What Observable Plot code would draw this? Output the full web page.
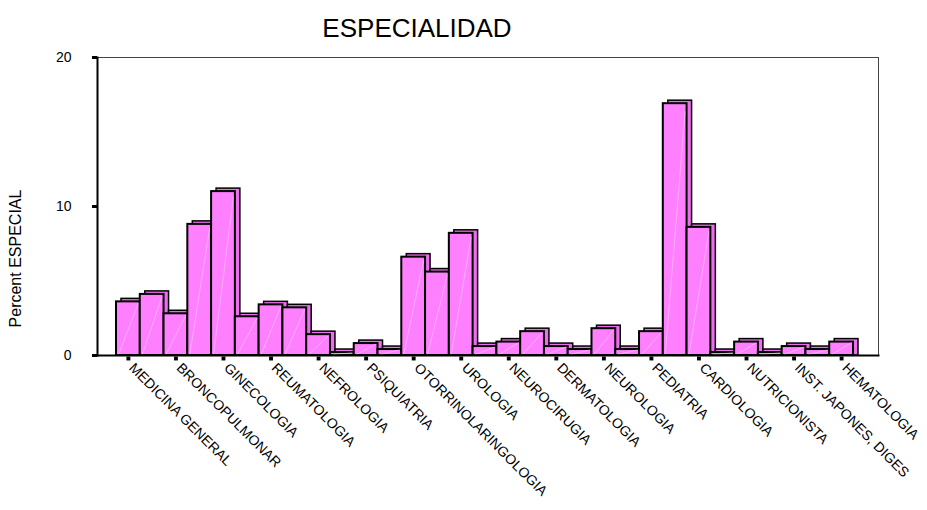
<!DOCTYPE html>
<html>
<head>
<meta charset="utf-8">
<script src="https://cdn.jsdelivr.net/npm/d3@7"></script>
<script src="https://cdn.jsdelivr.net/npm/@observablehq/plot@0.6"></script>
<style>
  html, body { margin: 0; padding: 0; background: #fff; }
</style>
</head>
<body>
<div id="chart"></div>
<script>
// Percent of records per specialty, in category order (31 categories).
const percents = [
  3.6, 4.1, 2.8, 8.8, 11.0, 2.6, 3.4, 3.2, 1.4, 0.2, 0.8,
  0.4, 6.6, 5.6, 8.2, 0.6, 0.9, 1.6, 0.6, 0.4, 1.8, 0.4,
  1.6, 16.9, 8.6, 0.2, 0.9, 0.2, 0.6, 0.4, 0.9
];

// Labels shown on every other category.
const tickLabels = [
  "MEDICINA GENERAL", "BRONCOPULMONAR", "GINECOLOGIA", "REUMATOLOGIA",
  "NEFROLOGIA", "PSIQUIATRIA", "OTORRINOLARINGOLOGIA", "UROLOGIA",
  "NEUROCIRUGIA", "DERMATOLOGIA", "NEUROLOGIA", "PEDIATRIA",
  "CARDIOLOGIA", "NUTRICIONISTA", "INST. JAPONES, DIGES", "HEMATOLOGIA"
];

const yTicks = [0, 10, 20];
const title = "ESPECIALIDAD";
const yLabel = "Percent ESPECIAL";

const bars = percents.map((v, i) => ({i, v}));
const tickPos = tickLabels.map((_, k) => 2 * k + 0.5);

const font = "'Liberation Sans', Arial, Helvetica, sans-serif";
const pink = "#ff80ff";
const pinkSide = "#ee6cee";

const chart = Plot.plot({
  width: 927,
  height: 510,
  marginLeft: 97,
  marginRight: 49,
  marginTop: 57,
  marginBottom: 155,
  style: {fontFamily: font, background: "#fff", color: "#000"},
  x: {type: "linear", domain: [0, percents.length], range: [116, 853]},
  y: {domain: [0, 20]},
  marks: [
    Plot.frame({stroke: "#444", strokeWidth: 1}),
    // depth faces (top and right side) of each 3-D bar
    Plot.rectY(bars, {
      x1: "i", x2: d => d.i + 1, y: "v",
      fill: pinkSide, stroke: "#000", strokeWidth: 1.5,
      dx: 5, dy: -3, insetBottom: -3
    }),
    // front faces
    Plot.rectY(bars, {
      x1: "i", x2: d => d.i + 1, y: "v",
      fill: pink, stroke: "#000", strokeWidth: 2
    }),
    // faint sheen across each front face
    Plot.link(bars, {
      x1: d => d.i + 0.08, y1: 0.05, x2: d => d.i + 0.92, y2: d => d.v * 0.97,
      stroke: "#fff", strokeOpacity: 0.5, strokeWidth: 0.7
    }),
    Plot.frame({anchor: "left", stroke: "#000", strokeWidth: 2}),
    Plot.frame({anchor: "bottom", stroke: "#000", strokeWidth: 2}),
    // category ticks
    Plot.dot(tickPos, {x: d => d, y: 0, symbol: "square", r: 2.2, fill: "#000", dy: 3}),
    Plot.axisX({
      ticks: tickPos,
      tickFormat: d => tickLabels[(d - 0.5) / 2],
      tickSize: 0,
      tickPadding: 10,
      tickRotate: 45,
      fontSize: 14,
      dx: 3,
      label: null
    }),
    Plot.axisY({
      ticks: yTicks,
      tickSize: 5,
      strokeWidth: 3,
      tickPadding: 21,
      fontSize: 14,
      label: null
    }),
    Plot.text([yLabel], {
      frameAnchor: "left", rotate: -90, dx: -82, dy: 52,
      fontSize: 16, lineAnchor: "middle", textAnchor: "middle"
    }),
    Plot.text([title], {
      frameAnchor: "top", dx: -71, dy: -29,
      fontSize: 26, lineAnchor: "middle", textAnchor: "middle"
    })
  ]
});

document.getElementById("chart").appendChild(chart);
</script>
</body>
</html>
